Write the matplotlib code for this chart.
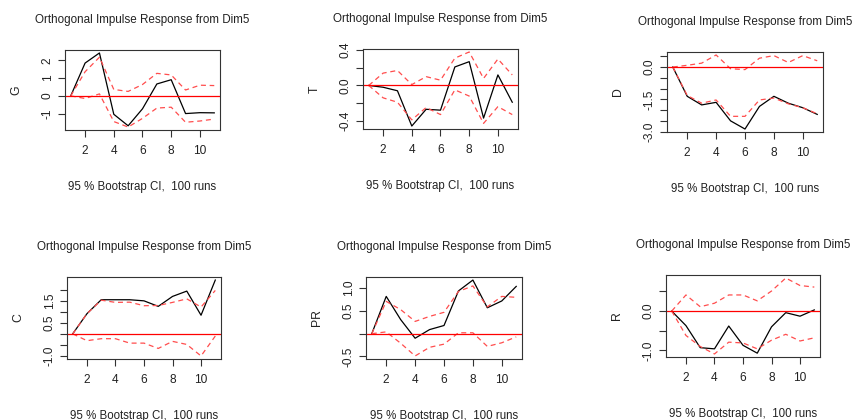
import numpy as np
import matplotlib
matplotlib.use("Agg")
import matplotlib.pyplot as plt

plt.rcParams['font.family'] = ['Liberation Sans', 'DejaVu Sans']

# forecast horizon
steps = np.arange(1, 12)

# impulse responses (irf) with bootstrap bands, one block per variable
G_irf = [0, 1.85, 2.42, -1.04, -1.69, -0.73, 0.67, 0.91, -1.00, -0.95, -0.96]
G_upper = [0, 1.36, 2.18, 0.36, 0.25, 0.64, 1.27, 1.18, 0.33, 0.60, 0.58]
G_lower = [0, -0.15, 0.11, -1.45, -1.76, -1.27, -0.69, -0.64, -1.49, -1.42, -1.31]

T_irf = [0, -0.02, -0.06, -0.46, -0.27, -0.28, 0.21, 0.27, -0.37, 0.12, -0.19]
T_upper = [0, 0.14, 0.17, 0.01, 0.10, 0.06, 0.31, 0.38, 0.08, 0.30, 0.12]
T_lower = [0, -0.14, -0.19, -0.39, -0.25, -0.33, -0.05, -0.12, -0.43, -0.24, -0.33]

D_irf = [0, -1.36, -1.76, -1.64, -2.50, -2.88, -1.83, -1.36, -1.68, -1.89, -2.20]
D_upper = [0, 0.08, 0.18, 0.56, -0.08, -0.12, 0.41, 0.53, 0.21, 0.53, 0.29]
D_lower = [0, -1.32, -1.68, -1.53, -2.29, -2.29, -1.53, -1.44, -1.71, -1.89, -2.17]

C_irf = [0, 0.91, 1.54, 1.54, 1.54, 1.49, 1.24, 1.69, 1.93, 0.84, 2.43]
C_upper = [0, 0.91, 1.52, 1.42, 1.43, 1.27, 1.28, 1.42, 1.58, 1.21, 1.96]
C_lower = [0, -0.31, -0.22, -0.22, -0.42, -0.42, -0.66, -0.34, -0.48, -1.00, -0.10]

PR_irf = [0, 0.82, 0.31, -0.10, 0.09, 0.18, 0.94, 1.18, 0.57, 0.72, 1.04]
PR_upper = [0, 0.71, 0.53, 0.27, 0.38, 0.47, 0.93, 1.05, 0.59, 0.82, 0.80]
PR_lower = [0, 0.04, -0.21, -0.49, -0.30, -0.23, 0.02, 0.02, -0.28, -0.20, -0.07]

R_irf = [0, -0.37, -0.93, -0.96, -0.38, -0.87, -1.07, -0.40, -0.04, -0.13, 0.03]
R_upper = [0, 0.41, 0.11, 0.20, 0.41, 0.41, 0.26, 0.51, 0.84, 0.65, 0.61]
R_lower = [0, -0.62, -0.90, -1.09, -0.79, -0.81, -0.96, -0.74, -0.59, -0.76, -0.68]

names = ["G", "T", "D", "C", "PR", "R"]
irfs = [G_irf, T_irf, D_irf, C_irf, PR_irf, R_irf]
uppers = [G_upper, T_upper, D_upper, C_upper, PR_upper, R_upper]
lowers = [G_lower, T_lower, D_lower, C_lower, PR_lower, R_lower]

# y ticks and the labels that get printed
yticks = [[-1, 0, 1, 2],
          [-0.4, -0.2, 0.0, 0.2, 0.4],
          [0.5, 0.0, -0.5, -1.0, -1.5, -2.0, -2.5, -3.0],
          [2.0, 1.5, 1.0, 0.5, 0.0, -0.5, -1.0],
          [1.0, 0.5, 0.0, -0.5],
          [0.5, 0.0, -0.5, -1.0]]
ylabels = [["-1", "0", "1", "2"],
           ["-0.4", "", "0.0", "", "0.4"],
           ["", "0.0", "", "", "-1.5", "", "", "-3.0"],
           ["", "1.5", "", "0.5", "", "", "-1.0"],
           ["1.0", "0.5", "", "-0.5"],
           ["", "0.0", "", "-1.0"]]

title = "Orthogonal Impulse Response from Dim5"
subtitle = "95 % Bootstrap CI,  100 runs"

W, H = 853, 420
# plot boxes in pixels: left, top, right, bottom
boxes = [(65, 50, 220, 130), (363, 49, 518, 129), (667, 52, 823, 132),
         (67, 277, 221, 359), (366, 277, 522, 359), (666, 275, 820, 357)]

fig = plt.figure(figsize=(W / 100, H / 100), dpi=100)

for i in range(6):
    l, t, r, b = boxes[i]
    ax = fig.add_axes([l / W, 1 - b / H, (r - l) / W, (b - t) / H])
    ax.plot(steps, irfs[i], color="black", lw=0.9)
    ax.plot(steps, uppers[i], color="#ff4d4d", lw=0.9, ls=(0, (4, 3)))
    ax.plot(steps, lowers[i], color="#ff4d4d", lw=0.9, ls=(0, (4, 3)))
    ax.axhline(0, color="red", lw=0.9)

    # R-style 4% padding on both axes
    lo = min(min(irfs[i]), min(lowers[i]))
    hi = max(max(irfs[i]), max(uppers[i]))
    pad = (hi - lo) * 0.04
    ax.set_ylim(lo - pad, hi + pad)
    ax.set_xlim(0.6, 11.4)

    ax.set_xticks([2, 4, 6, 8, 10])
    ax.set_yticks(yticks[i])
    ax.set_yticklabels(ylabels[i], rotation=90, va="center")
    ax.tick_params(direction="out", length=5, width=0.8, labelsize=8.6,
                   color="#333333", labelcolor="#222222")
    ax.tick_params(axis="x", pad=6)
    ax.tick_params(axis="y", pad=3)
    for s in ax.spines.values():
        s.set_color("#333333")
        s.set_linewidth(0.8)

    ax.set_ylabel(names[i], fontsize=8.8, labelpad=14, color="#222222")
    cx = (l + r) / 2
    fig.text(cx / W, 1 - (t - 30) / H, title, ha="center", va="center",
             fontsize=8.4, color="#222222")
    fig.text(cx / W, 1 - (b + 57) / H, subtitle, ha="center", va="center",
             fontsize=8.3, color="#222222")

fig.savefig("out.png", dpi=100)
